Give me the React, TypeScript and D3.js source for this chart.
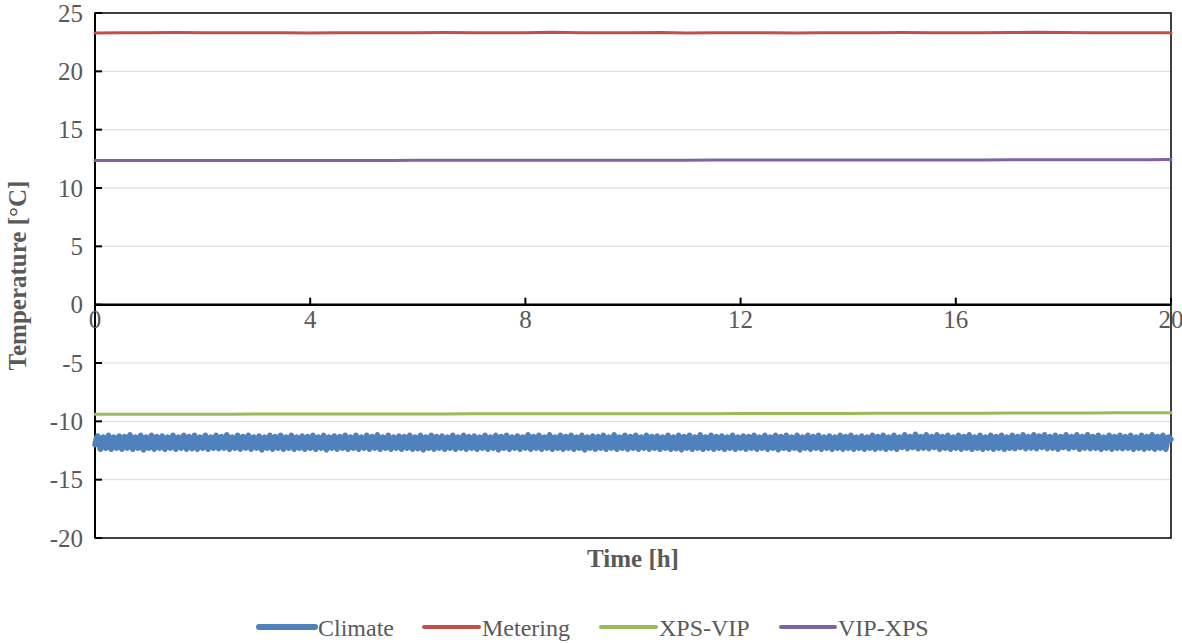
import React from "react";
import * as d3 from "d3";

// Hourly time axis ticks and temperature axis ticks
const xTicks = [0, 4, 8, 12, 16, 20];
const yTicks = [-20, -15, -10, -5, 0, 5, 10, 15, 20, 25];

// Climate chamber air temperature, logged every 0.05 h (one row per hour)
const CLIMATE_STEP_H = 0.05;
const climate = [
  -12.0, -11.25, -12.4, -11.35, -12.3, -11.2, -12.4, -11.35, -12.3, -11.25, -12.4, -11.3, -12.3, -11.15, -12.4, -11.35, -12.3, -11.2, -12.45, -11.35,
  -12.3, -11.2, -12.4, -11.3, -12.3, -11.25, -12.4, -11.35, -12.3, -11.2, -12.4, -11.35, -12.3, -11.2, -12.4, -11.3, -12.35, -11.2, -12.4, -11.35,
  -12.3, -11.2, -12.4, -11.35, -12.3, -11.2, -12.35, -11.3, -12.3, -11.15, -12.4, -11.35, -12.3, -11.2, -12.4, -11.3, -12.3, -11.2, -12.4, -11.35,
  -12.3, -11.25, -12.45, -11.35, -12.3, -11.2, -12.4, -11.3, -12.3, -11.2, -12.4, -11.35, -12.3, -11.2, -12.4, -11.35, -12.3, -11.25, -12.4, -11.3,
  -12.3, -11.2, -12.4, -11.35, -12.3, -11.2, -12.45, -11.35, -12.3, -11.25, -12.4, -11.3, -12.3, -11.2, -12.4, -11.35, -12.3, -11.2, -12.4, -11.35,
  -12.3, -11.2, -12.4, -11.3, -12.3, -11.15, -12.4, -11.35, -12.3, -11.2, -12.4, -11.35, -12.3, -11.25, -12.4, -11.3, -12.3, -11.2, -12.4, -11.35,
  -12.35, -11.2, -12.45, -11.35, -12.3, -11.2, -12.4, -11.3, -12.3, -11.25, -12.4, -11.35, -12.3, -11.2, -12.4, -11.35, -12.3, -11.2, -12.4, -11.3,
  -12.3, -11.25, -12.4, -11.35, -12.3, -11.2, -12.4, -11.35, -12.3, -11.2, -12.45, -11.3, -12.3, -11.2, -12.4, -11.35, -12.3, -11.25, -12.4, -11.35,
  -12.3, -11.15, -12.4, -11.3, -12.3, -11.2, -12.4, -11.35, -12.3, -11.15, -12.4, -11.35, -12.3, -11.2, -12.4, -11.3, -12.3, -11.2, -12.4, -11.35,
  -12.3, -11.2, -12.45, -11.35, -12.3, -11.25, -12.4, -11.3, -12.3, -11.2, -12.4, -11.35, -12.3, -11.15, -12.4, -11.35, -12.3, -11.2, -12.4, -11.3,
  -12.3, -11.2, -12.4, -11.35, -12.3, -11.2, -12.4, -11.3, -12.3, -11.25, -12.4, -11.35, -12.3, -11.2, -12.4, -11.35, -12.35, -11.2, -12.45, -11.3,
  -12.3, -11.2, -12.4, -11.35, -12.3, -11.15, -12.4, -11.35, -12.3, -11.2, -12.4, -11.3, -12.3, -11.25, -12.4, -11.35, -12.3, -11.2, -12.4, -11.35,
  -12.3, -11.25, -12.4, -11.3, -12.3, -11.2, -12.4, -11.35, -12.3, -11.2, -12.4, -11.35, -12.3, -11.2, -12.45, -11.3, -12.3, -11.2, -12.4, -11.35,
  -12.3, -11.2, -12.45, -11.35, -12.3, -11.2, -12.4, -11.3, -12.3, -11.2, -12.4, -11.35, -12.3, -11.25, -12.4, -11.35, -12.3, -11.2, -12.4, -11.3,
  -12.3, -11.2, -12.4, -11.35, -12.3, -11.25, -12.4, -11.35, -12.3, -11.2, -12.4, -11.3, -12.3, -11.2, -12.4, -11.35, -12.3, -11.2, -12.4, -11.35,
  -12.25, -11.15, -12.35, -11.3, -12.25, -11.1, -12.35, -11.3, -12.3, -11.15, -12.35, -11.3, -12.25, -11.15, -12.4, -11.3, -12.3, -11.2, -12.4, -11.35,
  -12.3, -11.2, -12.4, -11.3, -12.3, -11.15, -12.4, -11.35, -12.3, -11.2, -12.4, -11.35, -12.3, -11.2, -12.4, -11.3, -12.3, -11.2, -12.4, -11.35,
  -12.3, -11.2, -12.35, -11.3, -12.25, -11.15, -12.35, -11.3, -12.3, -11.15, -12.35, -11.25, -12.25, -11.15, -12.35, -11.3, -12.3, -11.2, -12.4, -11.3,
  -12.25, -11.15, -12.35, -11.3, -12.25, -11.15, -12.4, -11.3, -12.3, -11.15, -12.35, -11.3, -12.3, -11.2, -12.4, -11.35, -12.3, -11.2, -12.4, -11.3,
  -12.3, -11.2, -12.35, -11.3, -12.3, -11.2, -12.4, -11.35, -12.3, -11.2, -12.4, -11.3, -12.3, -11.15, -12.4, -11.3, -12.3, -11.2, -12.4, -11.35,
  -11.55,
];

// Sensor readings, every 0.5 h
const SENSOR_STEP_H = 0.5;
const metering = [
  23.28, 23.3, 23.3, 23.32, 23.3, 23.3, 23.3, 23.3, 23.28, 23.3,
  23.3, 23.3, 23.3, 23.32, 23.3, 23.3, 23.3, 23.34, 23.3, 23.3,
  23.3, 23.32, 23.28, 23.3, 23.3, 23.3, 23.28, 23.3, 23.3, 23.3,
  23.32, 23.3, 23.3, 23.3, 23.32, 23.36, 23.32, 23.3, 23.3, 23.3,
  23.3,
];
const xpsVip = [
  -9.4, -9.4, -9.4, -9.4, -9.4, -9.4, -9.38, -9.38, -9.38, -9.38,
  -9.38, -9.37, -9.37, -9.37, -9.36, -9.36, -9.36, -9.35, -9.35, -9.35,
  -9.35, -9.34, -9.34, -9.34, -9.33, -9.33, -9.33, -9.32, -9.32, -9.31,
  -9.31, -9.3, -9.3, -9.3, -9.29, -9.29, -9.28, -9.28, -9.27, -9.27,
  -9.27,
];
const vipXps = [
  12.35, 12.35, 12.35, 12.35, 12.35, 12.35, 12.36, 12.36, 12.36, 12.36,
  12.36, 12.36, 12.37, 12.37, 12.37, 12.37, 12.37, 12.37, 12.38, 12.38,
  12.38, 12.38, 12.38, 12.39, 12.39, 12.39, 12.39, 12.4, 12.4, 12.4,
  12.4, 12.41, 12.41, 12.41, 12.42, 12.42, 12.42, 12.43, 12.43, 12.43,
  12.44,
];

const seriesNames = ["Climate", "Metering", "XPS-VIP", "VIP-XPS"];
const seriesColors = ["#4f81bd", "#c0504d", "#9bbb59", "#8064a2"];

const W = 1182;
const H = 643;
const M = { left: 95, right: 1171, top: 13, bottom: 538 };
const FONT = "'Liberation Serif', 'Times New Roman', serif";
const TEXT = "#595959";

export default function App() {
  const x = d3.scaleLinear().domain([0, 20]).range([M.left, M.right]);
  const y = d3.scaleLinear().domain([-20, 25]).range([M.bottom, M.top]);

  const line = d3
    .line<[number, number]>()
    .x((d) => x(d[0]))
    .y((d) => y(d[1]));
  const smooth = d3
    .line<[number, number]>()
    .x((d) => x(d[0]))
    .y((d) => y(d[1]))
    .curve(d3.curveMonotoneX);

  const climatePts = climate.map((v, i) => [i * CLIMATE_STEP_H, v] as [number, number]);
  const toPts = (arr: number[]) => arr.map((v, i) => [i * SENSOR_STEP_H, v] as [number, number]);

  const series = [
    { d: smooth(climatePts), w: 5.5 },
    { d: line(toPts(metering)), w: 3 },
    { d: line(toPts(xpsVip)), w: 3 },
    { d: line(toPts(vipXps)), w: 3 },
  ];

  const y0 = y(0);
  const legendItems = [
    { x1: 259, x2: 315, tx: 318 },
    { x1: 424, x2: 479, tx: 482 },
    { x1: 601, x2: 656, tx: 659 },
    { x1: 781, x2: 835, tx: 838 },
  ];

  return (
    <svg
      width={W}
      height={H}
      style={{ position: "fixed", left: 0, top: 0, background: "#fff" }}
      fontFamily={FONT}
    >
      <rect x={0} y={0} width={W} height={H} fill="#fff" />
      {/* horizontal gridlines */}
      {yTicks
        .filter((t) => t !== 0 && t !== 25 && t !== -20)
        .map((t) => (
          <line key={"g" + t} x1={M.left} x2={M.right} y1={y(t)} y2={y(t)} stroke="#d9d9d9" strokeWidth={1} />
        ))}
      {/* plot frame */}
      <rect
        x={M.left}
        y={M.top}
        width={M.right - M.left}
        height={M.bottom - M.top}
        fill="none"
        stroke="#000"
        strokeWidth={1.5}
      />
      {/* y axis */}
      <line x1={M.left} x2={M.left} y1={M.top} y2={M.bottom} stroke="#000" strokeWidth={2} />
      {yTicks.map((t) => (
        <g key={"y" + t}>
          <line x1={M.left} x2={M.left + 7} y1={y(t)} y2={y(t)} stroke="#000" strokeWidth={2} />
          <text x={83} y={y(t)} dy="0.35em" textAnchor="end" fontSize={25} fill={TEXT}>
            {t}
          </text>
        </g>
      ))}
      {/* x axis along zero */}
      <line x1={M.left} x2={M.right} y1={y0} y2={y0} stroke="#000" strokeWidth={2.5} />
      {xTicks.map((t) => (
        <g key={"x" + t}>
          <line x1={x(t)} x2={x(t)} y1={y0} y2={y0 - 7} stroke="#000" strokeWidth={2} />
          <text x={x(t)} y={y0 + 23} textAnchor="middle" fontSize={25} fill={TEXT}>
            {t}
          </text>
        </g>
      ))}
      {/* series */}
      {series.map((s, i) => (
        <path
          key={seriesNames[i]}
          d={s.d || ""}
          fill="none"
          stroke={seriesColors[i]}
          strokeWidth={s.w}
          strokeLinejoin="round"
          strokeLinecap="round"
        />
      ))}
      {/* axis titles */}
      <text x={633} y={567} textAnchor="middle" fontSize={25} fontWeight="bold" fill={TEXT}>
        Time [h]
      </text>
      <text
        transform={`translate(26, ${(M.top + M.bottom) / 2}) rotate(-90)`}
        textAnchor="middle"
        fontSize={25}
        fontWeight="bold"
        fill={TEXT}
      >
        Temperature [°C]
      </text>
      {/* legend */}
      {legendItems.map((l, i) => (
        <g key={"l" + i}>
          <line
            x1={l.x1}
            x2={l.x2}
            y1={627}
            y2={627}
            stroke={seriesColors[i]}
            strokeWidth={i === 0 ? 6 : 4}
            strokeLinecap="round"
          />
          <text x={l.tx} y={636} fontSize={24} fill={TEXT}>
            {seriesNames[i]}
          </text>
        </g>
      ))}
    </svg>
  );
}
